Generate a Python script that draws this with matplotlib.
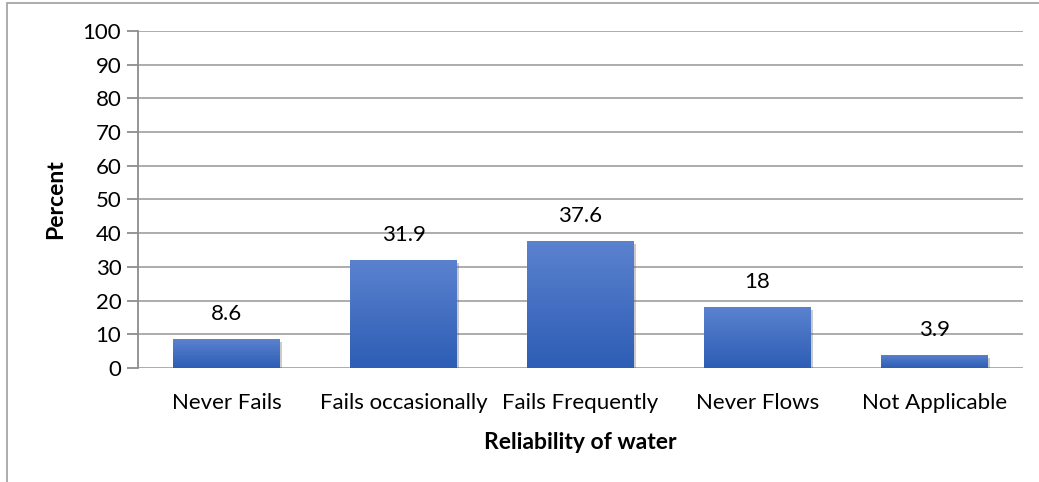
import matplotlib.pyplot as plt
import numpy as np
from matplotlib.colors import LinearSegmentedColormap
from matplotlib.patches import Rectangle
import matplotlib.patheffects as pe

plt.rcParams["font.family"] = ["Lato", "DejaVu Sans"]

categories = ["Never Fails", "Fails occasionally", "Fails Frequently",
              "Never Flows", "Not Applicable"]
percent = [8.6, 31.9, 37.6, 18, 3.9]
labels = ["8.6", "31.9", "37.6", "18", "3.9"]

fig = plt.figure(figsize=(10.39, 4.82), dpi=100)
ax = fig.add_axes([0.1328, 0.2365, 0.8518, 0.6992])

x = np.arange(len(categories))
grad = LinearSegmentedColormap.from_list("bar", ["#2d5db5", "#5b82cf"])
img = np.linspace(0, 1, 256).reshape(-1, 1)

bars = ax.bar(x, percent, width=0.6, color="#4472c4", zorder=3,
              path_effects=[pe.SimplePatchShadow(offset=(2, -2), alpha=0.3,
                                                 shadow_rgbFace="#555555"),
                            pe.Normal()])
for b in bars:
    x0, y0 = b.get_x(), b.get_y()
    w, h = b.get_width(), b.get_height()
    im = ax.imshow(img, cmap=grad, aspect="auto", origin="lower",
                   extent=[x0, x0 + w, y0, y0 + h], zorder=4)
    im.set_clip_path(b)

for xi, v, t in zip(x, percent, labels):
    ax.text(xi, v + 4.5, t, ha="center", va="bottom", fontsize=16)

ax.set_xlim(-0.5, len(categories) - 0.5)
ax.set_ylim(0, 100)
ax.set_yticks(range(0, 101, 10))
ax.set_xticks(x)
ax.set_xticklabels(categories)
ax.yaxis.grid(True, color="#a6a6a6", linewidth=1.3, zorder=0)
ax.set_axisbelow(True)

for s in ["top", "right", "bottom"]:
    ax.spines[s].set_visible(False)
ax.spines["left"].set_color("#8c8c8c")
ax.spines["left"].set_linewidth(1.3)
ax.tick_params(axis="y", length=8, width=1.3, color="#8c8c8c",
               labelsize=16, pad=4)
ax.tick_params(axis="x", length=0, labelsize=16, pad=18)

ax.set_xlabel("Reliability of water", fontsize=16.5, fontweight="bold", labelpad=14)
ax.set_ylabel("Percent", fontsize=16.5, fontweight="bold", labelpad=12)

# outer chart frame
fig.patches.append(Rectangle((7 / 1039, -0.1), 1.2, 1 - 3 / 482 + 0.1,
                             transform=fig.transFigure, fill=False,
                             edgecolor="#a6a6a6", linewidth=1.3))

fig.savefig("out.png", dpi=100)
